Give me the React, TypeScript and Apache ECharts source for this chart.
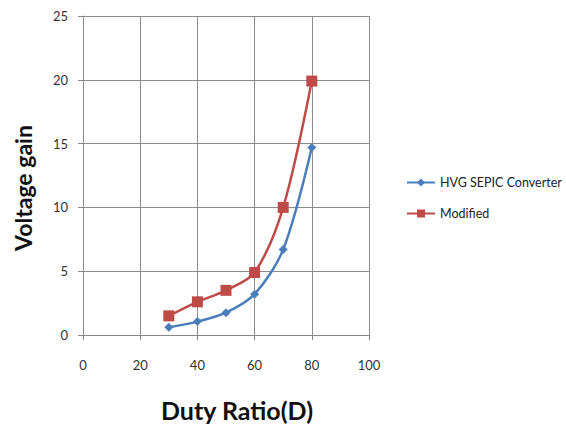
import React, { useEffect, useRef } from "react";
import * as echarts from "echarts";

const dutyRatio = [30, 40, 50, 60, 70, 80];
const hvgSepic = [0.6, 1.05, 1.75, 3.2, 6.7, 14.7];
const modified = [1.5, 2.6, 3.5, 4.9, 10.0, 19.9];
const seriesNames = ["HVG SEPIC Converter", "Modified"];
const xTitle = "Duty Ratio(D)";
const yTitle = "Voltage gain";

export default function App() {
  const ref = useRef<HTMLDivElement>(null);
  useEffect(() => {
    if (!ref.current) return;
    const chart = echarts.init(ref.current, null, { renderer: "svg" });
    const font = "Lato, 'Open Sans', sans-serif";
    chart.setOption({
      animation: false,
      backgroundColor: "#ffffff",
      textStyle: { fontFamily: font },
      grid: { left: 83, right: 197, top: 16, bottom: 91 },
      graphic: [
        {
          type: "text",
          x: 237,
          y: 410,
          style: {
            text: xTitle,
            fontSize: 25,
            fontWeight: "bold",
            fontFamily: font,
            fill: "#111",
            align: "center",
            verticalAlign: "middle",
          },
        },
        {
          type: "text",
          x: 23,
          y: 188,
          rotation: Math.PI / 2,
          style: {
            text: yTitle,
            fontSize: 23,
            fontWeight: "bold",
            fontFamily: font,
            fill: "#111",
            align: "center",
            verticalAlign: "middle",
          },
        },
      ],
      legend: {
        orient: "vertical",
        left: 401,
        top: 171,
        itemGap: 18,
        itemWidth: 28,
        itemHeight: 10,
        textStyle: { fontSize: 12.5, color: "#222", fontFamily: font },
        data: seriesNames,
      },
      xAxis: {
        type: "value",
        min: 0,
        max: 100,
        interval: 20,
        axisLine: { show: true, lineStyle: { color: "#888" } },
        axisTick: { show: true, length: 5, lineStyle: { color: "#888" } },
        axisLabel: { fontSize: 13, color: "#333", margin: 23 },
        splitLine: { show: true, lineStyle: { color: "#8c8c8c", width: 1 } },
      },
      yAxis: {
        type: "value",
        min: 0,
        max: 25,
        interval: 5,
        axisLine: { show: true, lineStyle: { color: "#888" } },
        axisTick: { show: true, length: 5, lineStyle: { color: "#888" } },
        axisLabel: { fontSize: 13, color: "#333", margin: 15 },
        splitLine: { show: true, lineStyle: { color: "#8c8c8c", width: 1 } },
      },
      series: [
        {
          name: seriesNames[0],
          type: "line",
          smooth: 0.3,
          data: dutyRatio.map((d, i) => [d, hvgSepic[i]]),
          symbol: "diamond",
          symbolSize: 9,
          lineStyle: { color: "#4a7ebb", width: 2.5 },
          itemStyle: { color: "#4a7ebb" },
        },
        {
          name: seriesNames[1],
          type: "line",
          smooth: 0.3,
          data: dutyRatio.map((d, i) => [d, modified[i]]),
          symbol: "rect",
          symbolSize: 11,
          lineStyle: { color: "#be4b48", width: 2.5 },
          itemStyle: { color: "#be4b48" },
        },
      ],
    });
    return () => chart.dispose();
  }, []);
  return (
    <div
      ref={ref}
      style={{ position: "fixed", left: 0, top: 0, width: 566, height: 426 }}
    />
  );
}
